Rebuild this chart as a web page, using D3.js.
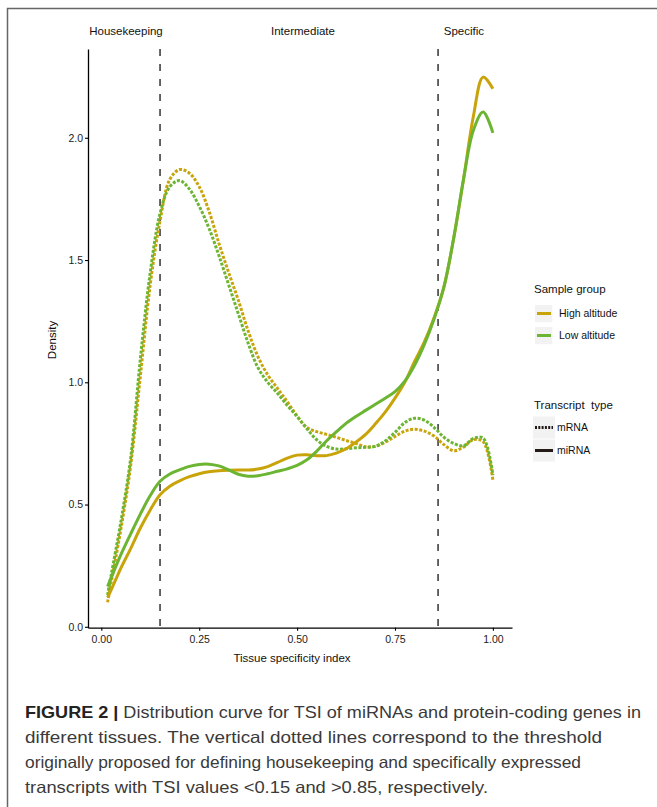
<!DOCTYPE html>
<html>
<head>
<meta charset="utf-8">
<script src="https://cdn.jsdelivr.net/npm/d3@7"></script>
<style>
  html, body { margin: 0; padding: 0; background: #fff; }
  svg { display: block; font-family: "Liberation Sans", Arial, Helvetica, sans-serif; }
</style>
</head>
<body>
<svg id="chart" width="657" height="807"></svg>
<script>
// Tissue specificity index grid shared by all density curves
const tsi = [0.016, 0.025, 0.05, 0.075, 0.1, 0.125, 0.15, 0.175, 0.2, 0.225, 0.25, 0.275, 0.3,
             0.325, 0.35, 0.375, 0.4, 0.425, 0.45, 0.475, 0.5, 0.525, 0.55, 0.575, 0.6, 0.625, 0.65,
             0.675, 0.7, 0.725, 0.75, 0.775, 0.8, 0.825, 0.85, 0.875, 0.9, 0.925, 0.95, 0.975, 1.0];

// Density estimates per transcript type and sample group
const mrnaHigh = [0.10, 0.18, 0.40, 0.66, 1.03, 1.40, 1.66, 1.83, 1.87, 1.855, 1.80, 1.70, 1.57,
                  1.45, 1.335, 1.21, 1.105, 1.03, 0.975, 0.92, 0.862, 0.815, 0.798, 0.787, 0.775, 0.762, 0.75,
                  0.736, 0.738, 0.755, 0.778, 0.80, 0.808, 0.80, 0.78, 0.745, 0.72, 0.735, 0.765, 0.757, 0.60];
const mrnaLow  = [0.13, 0.21, 0.43, 0.69, 1.10, 1.45, 1.69, 1.80, 1.825, 1.79, 1.72, 1.63, 1.52,
                  1.40, 1.28, 1.16, 1.06, 1.00, 0.955, 0.905, 0.86, 0.81, 0.765, 0.738, 0.727, 0.728, 0.732,
                  0.734, 0.738, 0.76, 0.795, 0.835, 0.853, 0.845, 0.815, 0.775, 0.75, 0.74, 0.77, 0.772, 0.62];
const mirnaHigh = [0.12, 0.15, 0.24, 0.32, 0.405, 0.478, 0.54, 0.575, 0.597, 0.614, 0.626, 0.634, 0.638,
                   0.64, 0.641, 0.641, 0.645, 0.655, 0.672, 0.69, 0.702, 0.704, 0.70, 0.70, 0.71, 0.728, 0.755,
                   0.787, 0.83, 0.878, 0.935, 1.00, 1.085, 1.165, 1.265, 1.39, 1.59, 1.83, 2.086, 2.248, 2.20];
const mirnaLow  = [0.165, 0.20, 0.295, 0.38, 0.462, 0.537, 0.595, 0.625, 0.642, 0.656, 0.664, 0.665, 0.658,
                   0.642, 0.624, 0.616, 0.618, 0.626, 0.636, 0.646, 0.66, 0.683, 0.718, 0.76, 0.797, 0.832, 0.86,
                   0.885, 0.91, 0.935, 0.962, 1.005, 1.07, 1.155, 1.26, 1.39, 1.59, 1.83, 2.03, 2.105, 2.02];

// Threshold lines and region labels
const thresholds = [0.15, 0.86];
const regionLabels = ["Housekeeping", "Intermediate", "Specific"];
const regionLabelX = [0.063, 0.515, 0.926];

const xTicks = [0, 0.25, 0.5, 0.75, 1.0];
const yTicks = [0, 0.5, 1.0, 1.5, 2.0];

const groups = ["High altitude", "Low altitude"];
const groupColors = ["#c8a40a", "#6cb532"];
const types = ["mRNA", "miRNA"];

const captionBold = "FIGURE 2 |";
const captionLines = [
  " Distribution curve for TSI of miRNAs and protein-coding genes in",
  "different tissues. The vertical dotted lines correspond to the threshold",
  "originally proposed for defining housekeeping and specifically expressed",
  "transcripts with TSI values <0.15 and >0.85, respectively."
];

const svg = d3.select("#chart");

// Figure frame (top and left rules)
svg.append("path")
  .attr("d", "M7.5,807 L7.5,8.5 L657,8.5")
  .attr("fill", "none").attr("stroke", "#666").attr("stroke-width", 1.5);

const x = d3.scaleLinear().domain([-0.034, 1.0488]).range([88, 512]);
const y = d3.scaleLinear().domain([-0.0037, 2.363]).range([627.7, 49]);

// Axes
const xAxis = svg.append("g").attr("transform", "translate(0,627.7)")
  .call(d3.axisBottom(x).tickValues(xTicks).tickFormat(d3.format(".2f")).tickSize(3).tickSizeOuter(0));
const yAxis = svg.append("g").attr("transform", "translate(88,0)")
  .call(d3.axisLeft(y).tickValues(yTicks).tickFormat(d3.format(".1f")).tickSize(3).tickSizeOuter(0));
[xAxis, yAxis].forEach(g => {
  g.select(".domain").attr("stroke", "#000").attr("stroke-width", 1.3);
  g.selectAll(".tick line").attr("stroke", "#000").attr("stroke-width", 1.1);
  g.selectAll(".tick text").attr("fill", "#222").style("font-size", "10.5px")
    .style("font-family", "'Liberation Sans', Arial, sans-serif");
});
xAxis.selectAll(".tick text").attr("dy", "0.9em");
yAxis.selectAll(".tick text").attr("x", -5);

// Axis titles
svg.append("text").attr("x", 292).attr("y", 662).attr("text-anchor", "middle")
  .style("font-size", "11.5px").attr("fill", "#111").text("Tissue specificity index");
svg.append("text").attr("transform", "translate(56,340) rotate(-90)").attr("text-anchor", "middle")
  .style("font-size", "11.5px").attr("fill", "#111").text("Density");

// Threshold lines
svg.append("g").selectAll("line").data(thresholds).join("line")
  .attr("x1", d => x(d)).attr("x2", d => x(d))
  .attr("y1", 49).attr("y2", 627)
  .attr("stroke", "#555").attr("stroke-width", 1.8).attr("stroke-dasharray", "7,8");

// Region labels
svg.append("g").selectAll("text").data(regionLabels).join("text")
  .attr("x", (d, i) => x(regionLabelX[i])).attr("y", 35).attr("text-anchor", "middle")
  .style("font-size", "11.5px").attr("fill", "#111").text(d => d);

// Density curves
const line = d3.line()
  .x((d, i) => x(tsi[i]))
  .y(d => y(d))
  .curve(d3.curveCatmullRom.alpha(0.5));

const series = [
  { values: mrnaHigh, color: groupColors[0], dotted: true },
  { values: mrnaLow, color: groupColors[1], dotted: true },
  { values: mirnaHigh, color: groupColors[0], dotted: false },
  { values: mirnaLow, color: groupColors[1], dotted: false }
];
svg.append("g").selectAll("path").data(series).join("path")
  .attr("d", d => line(d.values))
  .attr("fill", "none")
  .attr("stroke", d => d.color)
  .attr("stroke-width", 3)
  .attr("stroke-dasharray", d => d.dotted ? "3,1.6" : null);

// Legend: sample group
const lg1 = svg.append("g");
lg1.append("text").attr("x", 534).attr("y", 293).style("font-size", "11.5px").attr("fill", "#111").text("Sample group");
groups.forEach((g, i) => {
  const cy = 313.5 + i * 22;
  lg1.append("rect").attr("x", 535).attr("y", cy - 8.6).attr("width", 17.3).attr("height", 17.3).attr("fill", "#f2f2f2");
  lg1.append("line").attr("x1", 537).attr("x2", 551).attr("y1", cy).attr("y2", cy)
    .attr("stroke", groupColors[i]).attr("stroke-width", 3);
  lg1.append("text").attr("x", 559).attr("y", cy + 3.7).style("font-size", "10.5px").attr("fill", "#111").text(g);
});

// Legend: transcript type
const lg2 = svg.append("g");
lg2.append("text").attr("x", 534).attr("y", 409).style("font-size", "11.5px").attr("fill", "#111")
  .style("white-space", "pre").text("Transcript  type");
types.forEach((t, i) => {
  const cy = 427.5 + i * 23;
  lg2.append("rect").attr("x", 533).attr("y", cy - 11).attr("width", 22).attr("height", 22).attr("fill", "#f2f2f2");
  lg2.append("line").attr("x1", 535).attr("x2", 553).attr("y1", cy).attr("y2", cy)
    .attr("stroke", "#231a18").attr("stroke-width", 3)
    .attr("stroke-dasharray", t === "mRNA" ? "2,1.3" : null);
  lg2.append("text").attr("x", 557).attr("y", cy + 3.7).style("font-size", "10.5px").attr("fill", "#111").text(t);
});

// Caption
const capTargets = [616, 577, 556, 463];
const cap = svg.append("g").attr("fill", "#3a3a3a").style("font-size", "16.5px");
captionLines.forEach((txt, i) => {
  const t = cap.append("text").attr("x", 25).attr("y", 718 + i * 25).style("white-space", "pre");
  if (i === 0) {
    t.append("tspan").style("font-weight", "bold").attr("fill", "#222").text(captionBold);
  }
  t.append("tspan").text(txt);
  const w = t.node().getComputedTextLength();
  if (Math.abs(w - capTargets[i]) > 2) {
    t.attr("textLength", capTargets[i]).attr("lengthAdjust", "spacingAndGlyphs");
  }
});
</script>
</body>
</html>
